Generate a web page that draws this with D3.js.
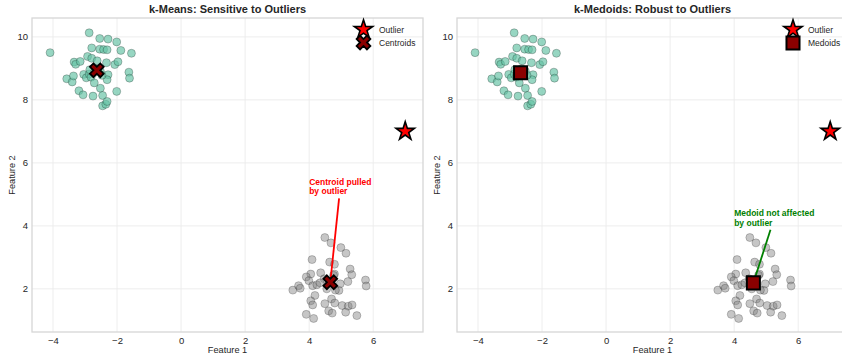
<!DOCTYPE html>
<html><head><meta charset="utf-8">
<script src="https://cdn.jsdelivr.net/npm/d3@7"></script>
<style>
body{margin:0;background:#fff}
svg{display:block;font-family:"Liberation Sans",Arial,Helvetica,sans-serif}
</style>
</head><body>
<svg id="chart" width="842" height="356"></svg>
<script>
// ---------- DATA ----------
const clusterA = [ // green cluster (Feature 1, Feature 2)
 [-4.09,9.50],[-2.87,10.13],[-2.54,9.95],[-2.28,9.93],[-2.01,9.84],[-2.79,9.65],
 [-2.54,9.61],[-2.42,9.60],[-2.31,9.59],[-1.88,9.57],[-1.55,9.48],[-3.34,9.20],
 [-3.29,9.13],[-3.15,9.22],[-2.92,9.38],[-2.79,9.32],[-2.62,9.24],[-2.33,9.18],
 [-2.07,9.12],[-1.97,9.21],[-1.63,8.88],[-1.61,8.69],[-3.57,8.67],[-3.40,8.57],
 [-3.36,8.76],[-3.04,8.81],[-2.96,8.70],[-2.87,8.82],[-2.81,8.72],[-2.71,8.54],
 [-2.28,8.80],[-2.31,8.64],[-2.52,8.37],[-3.19,8.29],[-3.06,8.16],[-2.75,8.12],
 [-2.45,8.14],[-2.01,8.27],[-2.45,7.81],[-2.35,7.86],[-2.31,7.95],[-2.64,8.99],
 [-2.52,8.91],[-2.85,8.96],[-2.71,8.87],[-2.47,8.78]
];
const clusterB = [ // gray cluster
 [4.49,3.63],[4.68,3.46],[4.99,3.31],[5.15,3.13],[4.09,2.93],[4.64,2.85],
 [4.79,2.78],[5.28,2.63],[5.33,2.45],[4.36,2.51],[4.05,2.47],[3.91,2.38],
 [3.99,2.26],[4.11,2.10],[4.24,2.13],[4.79,2.47],[4.97,2.16],[4.93,1.95],
 [5.21,2.23],[5.76,2.28],[5.78,2.09],[3.49,1.96],[3.67,2.10],[3.72,2.02],
 [4.18,1.79],[4.05,1.62],[4.11,1.49],[4.49,1.53],[4.70,1.68],[4.80,1.55],
 [5.03,1.47],[5.22,1.45],[5.34,1.49],[4.61,1.30],[4.72,1.23],[5.14,1.26],
 [5.49,1.15],[3.91,1.19],[4.14,1.06],[4.47,2.32],[4.82,1.96],[4.76,2.43],
 [4.34,2.19],[4.55,2.00]
];
const outlierPoint = [7.0, 7.0];
const kmeansCentroids = [[-2.63,8.94],[4.66,2.21]];
const kmedoidsMedoids = [[-2.67,8.86],[4.60,2.19]];
const xTicks = [-4,-2,0,2,4,6];
const yTicks = [2,4,6,8,10];
const xDomain = [-4.655, 7.555];
const yDomain = [0.63, 10.6];
const panelTitles = ["k-Means: Sensitive to Outliers", "k-Medoids: Robust to Outliers"];
const legendLabels = [["Outlier","Centroids"],["Outlier","Medoids"]];
const noteLines = [["Centroid pulled","by outlier"],["Medoid not affected","by outlier"]];
const noteAnchors = [[4.0,5.0],[4.0,4.0]];
const xLabel = "Feature 1", yLabel = "Feature 2";

// ---------- DRAW ----------
const svg = d3.select("#chart");
const fmt = d => d < 0 ? "\u2212" + Math.abs(d) : String(d);
const TXT = "#262626";

const panels = [
  {left:32, right:423, top:18, bottom:332, centers:kmeansCentroids, kind:"x",
   noteColor:"#ff0000", legendX:363.5, legendTextX:379, legendY:[29.5,42.5]},
  {left:457, right:848, top:18, bottom:332, centers:kmedoidsMedoids, kind:"sq",
   noteColor:"#008000", legendX:793, legendTextX:808, legendY:[29.5,43]}
];

function markerPath(kind){
  if(kind==="star") return d3.symbol(d3.symbolStar, 105)();
  if(kind==="x") return d3.symbol(d3.symbolCross, 118)();
  return d3.symbol(d3.symbolSquare, 170)();
}
function drawMarker(g, kind, x, y){
  const p = g.append("path").attr("d", markerPath(kind))
    .attr("stroke","#000").attr("stroke-linejoin","miter");
  if(kind==="star"){ p.attr("fill","#ff0000").attr("stroke-width",1.6)
      .attr("transform",`translate(${x},${y})`); }
  else if(kind==="x"){ p.attr("fill","#8b0000").attr("stroke-width",1.8)
      .attr("transform",`translate(${x},${y}) rotate(45)`); }
  else { p.attr("fill","#8b0000").attr("stroke-width",2)
      .attr("transform",`translate(${x},${y})`); }
}

panels.forEach((P, i) => {
  const g = svg.append("g");
  const sx = d3.scaleLinear().domain(xDomain).range([P.left, P.right]);
  const sy = d3.scaleLinear().domain(yDomain).range([P.bottom, P.top]);

  // grid
  g.append("g").selectAll("line").data(xTicks).join("line")
    .attr("x1",d=>sx(d)).attr("x2",d=>sx(d)).attr("y1",P.top).attr("y2",P.bottom)
    .attr("stroke","#ebebeb").attr("stroke-width",0.9);
  g.append("g").selectAll("line").data(yTicks).join("line")
    .attr("y1",d=>sy(d)).attr("y2",d=>sy(d)).attr("x1",P.left).attr("x2",P.right)
    .attr("stroke","#ebebeb").attr("stroke-width",0.9);

  // axes (tick labels via d3 axis)
  const xa = g.append("g").attr("transform",`translate(0,${P.bottom})`)
    .call(d3.axisBottom(sx).tickValues(xTicks).tickFormat(fmt).tickSize(0).tickPadding(5.5));
  const ya = g.append("g").attr("transform",`translate(${P.left},0)`)
    .call(d3.axisLeft(sy).tickValues(yTicks).tickFormat(fmt).tickSize(0).tickPadding(4));
  [xa,ya].forEach(a=>{ a.select(".domain").remove();
    a.selectAll("text").attr("fill",TXT).style("font-size","9.5px")
     .style("font-family",'"Liberation Sans",Arial,sans-serif'); });

  // frame
  g.append("rect").attr("x",P.left).attr("y",P.top)
    .attr("width",P.right-P.left).attr("height",P.bottom-P.top)
    .attr("fill","none").attr("stroke","#d6d6d6").attr("stroke-width",1.3);

  // points
  g.append("g").selectAll("circle").data(clusterA).join("circle")
    .attr("cx",d=>sx(d[0])).attr("cy",d=>sy(d[1])).attr("r",4)
    .attr("fill","#66c2a5").attr("fill-opacity",0.68)
    .attr("stroke","#000").attr("stroke-opacity",0.4).attr("stroke-width",0.6);
  g.append("g").selectAll("circle").data(clusterB).join("circle")
    .attr("cx",d=>sx(d[0])).attr("cy",d=>sy(d[1])).attr("r",4)
    .attr("fill","#808080").attr("fill-opacity",0.45)
    .attr("stroke","#000").attr("stroke-opacity",0.35).attr("stroke-width",0.6);

  // annotation text
  const [ax, ay] = noteAnchors[i];
  const lh = 9.8;
  const t = g.append("text").attr("x",sx(ax)).attr("y",sy(ay))
    .attr("fill",P.noteColor).style("font-size","8.5px").style("font-weight","bold");
  noteLines[i].forEach((ln,k)=>{
    t.append("tspan").attr("x",sx(ax))
     .attr("y", sy(ay) - (noteLines[i].length-1-k)*lh).text(ln);
  });
  const bb = t.node().getBBox();
  const cx = bb.x + bb.width/2, cy = bb.y + bb.height/2;
  const tx = sx(P.centers[1][0]), ty = sy(P.centers[1][1]);
  const dx = tx-cx, dy = ty-cy, len = Math.hypot(dx,dy);
  const tExit = Math.min(Math.abs((bb.height/2)/dy), Math.abs((bb.width/2)/dx));
  const sxp = cx + dx*tExit + dx/len*2, syp = cy + dy*tExit + dy/len*2;
  g.append("line").attr("x1",sxp).attr("y1",syp)
    .attr("x2",tx - dx/len*2).attr("y2",ty - dy/len*2)
    .attr("stroke",P.noteColor).attr("stroke-width",1.8);

  // outlier
  drawMarker(g,"star",sx(outlierPoint[0]),sy(outlierPoint[1]));
  // centers
  P.centers.forEach(c=>drawMarker(g,P.kind,sx(c[0]),sy(c[1])));

  // title
  g.append("text").attr("x",(P.left+P.right)/2).attr("y",13)
    .attr("text-anchor","middle").attr("fill",TXT)
    .style("font-size","11px").style("font-weight","bold").text(panelTitles[i]);
  // axis labels
  g.append("text").attr("x",(P.left+P.right)/2).attr("y",353)
    .attr("text-anchor","middle").attr("fill",TXT).style("font-size","9.2px").text(xLabel);
  g.append("text").attr("transform",`translate(${P.left-17},${(P.top+P.bottom)/2}) rotate(-90)`)
    .attr("text-anchor","middle").attr("fill",TXT).style("font-size","9.2px").text(yLabel);

  // legend
  drawMarker(g,"star",P.legendX,P.legendY[0]);
  drawMarker(g,P.kind,P.legendX,P.legendY[1]);
  legendLabels[i].forEach((lbl,k)=>{
    g.append("text").attr("x",P.legendTextX).attr("y",P.legendY[k]+3)
      .attr("fill",TXT).style("font-size","8.5px").text(lbl);
  });
});
</script>
</body></html>
